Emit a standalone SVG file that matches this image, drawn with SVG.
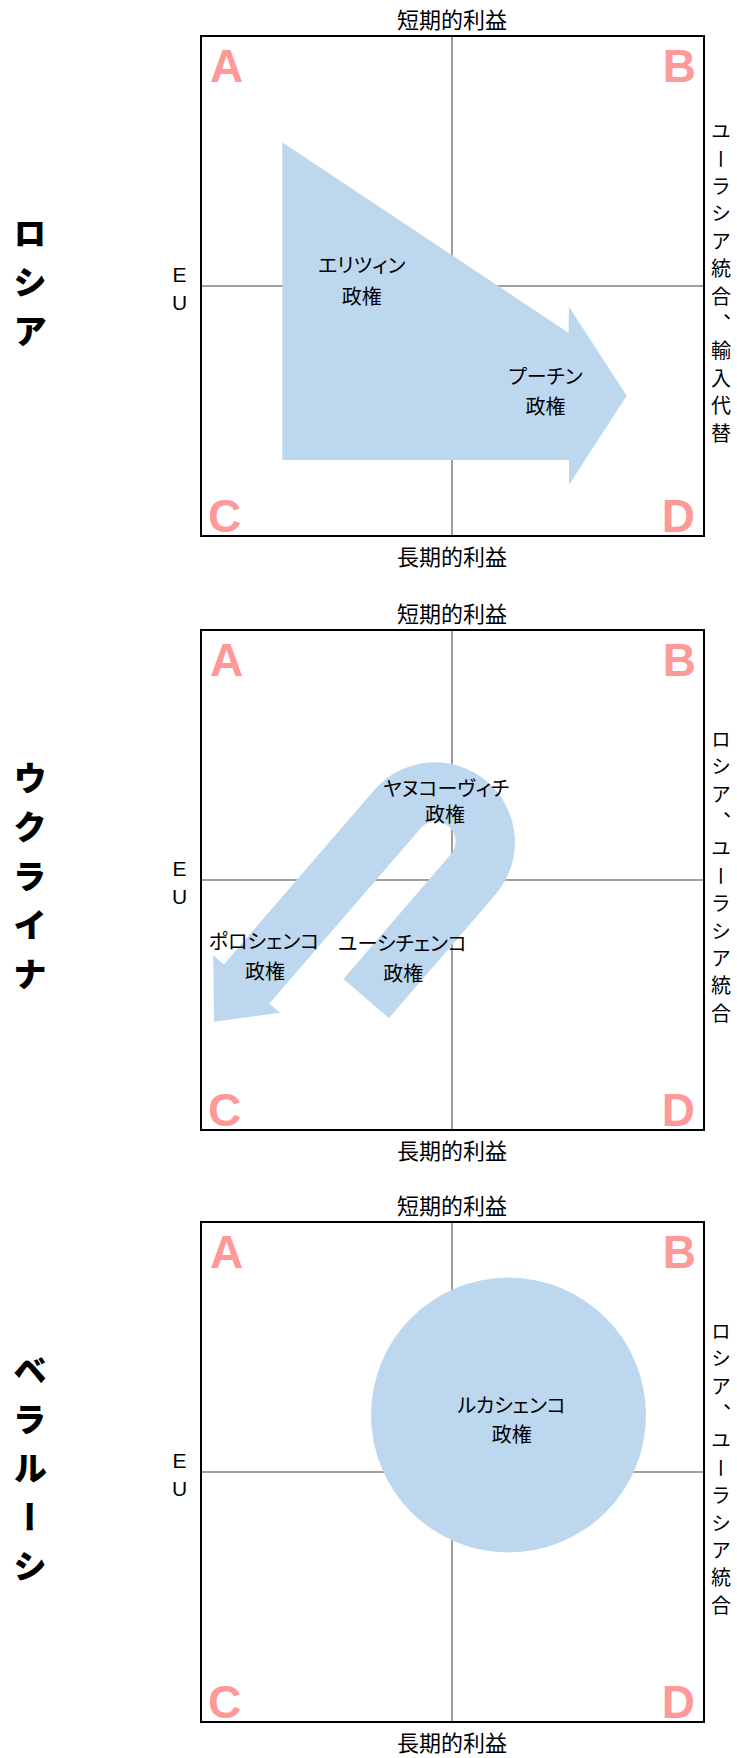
<svg xmlns="http://www.w3.org/2000/svg" width="737" height="1758" viewBox="0 0 737 1758">
<style>
.frame{fill:none;stroke:#000;stroke-width:2}
.grid{stroke:#7f7f7f;stroke-width:1.5}
.shape{fill:#BDD7EE}
.q{font-family:"Liberation Sans",Arial,sans-serif;font-weight:bold;font-size:46px;fill:#FF9999}
.qe{text-anchor:end}
.axis{font-family:"Noto Sans CJK JP",sans-serif;font-size:22px;fill:#000;text-anchor:middle}
.eu{font-family:"Liberation Sans",Arial,sans-serif;font-size:21px;fill:#000;text-anchor:middle}
.vr{font-family:"Noto Sans CJK JP",sans-serif;font-size:20px;fill:#000;writing-mode:vertical-rl;text-anchor:middle;letter-spacing:7.4px}
.big{font-family:"Noto Sans CJK JP",sans-serif;font-weight:900;font-size:34px;fill:#000;writing-mode:vertical-rl;text-anchor:middle;letter-spacing:15px}
.lbl{font-family:"Noto Sans CJK JP",sans-serif;font-size:20px;fill:#000;text-anchor:middle;font-feature-settings:"palt"}
</style>
<rect x="0" y="0" width="737" height="1758" fill="#fff"/>

<!-- Panel 1: Russia -->
<g id="panel-russia">
  <line class="grid" x1="452" y1="36" x2="452" y2="536"/>
  <line class="grid" x1="201" y1="286" x2="704" y2="286"/>
  <rect class="frame" x="201" y="36" width="503" height="500"/>
  <text class="q" x="210" y="81.5">A</text>
  <text class="q qe" x="696" y="81.5">B</text>
  <text class="q" x="208" y="531.5">C</text>
  <text class="q qe" x="695" y="531.5">D</text>
  <text class="axis" x="452" y="28">短期的利益</text>
  <text class="axis" x="452" y="565">長期的利益</text>
  <text class="eu" x="179.5" y="281.5">E</text>
  <text class="eu" x="179.5" y="309.5">U</text>
  <text class="vr" x="721" y="286">ユーラシア統合、輸入代替</text>
</g>
<g id="label-russia"><text class="big" x="30" y="290">ロシア</text></g>
<g id="arrow-russia">
  <polygon class="shape" points="282.3,142.3 568.5,332.7 569,306.7 626.7,395.7 569,484.7 569,460 282.3,460"/>
  <text class="lbl" x="361.7" y="273">エリツィン</text>
  <text class="lbl" x="361.7" y="303.5">政権</text>
  <text class="lbl" x="545.5" y="384">プーチン</text>
  <text class="lbl" x="545.5" y="414">政権</text>
</g>

<!-- Panel 2: Ukraine -->
<g id="panel-ukraine">
  <line class="grid" x1="452" y1="630" x2="452" y2="1130"/>
  <line class="grid" x1="201" y1="880" x2="704" y2="880"/>
  <rect class="frame" x="201" y="630" width="503" height="500"/>
  <text class="q" x="210" y="675.5">A</text>
  <text class="q qe" x="696" y="675.5">B</text>
  <text class="q" x="208" y="1125.5">C</text>
  <text class="q qe" x="695" y="1125.5">D</text>
  <text class="axis" x="452" y="622">短期的利益</text>
  <text class="axis" x="452" y="1159">長期的利益</text>
  <text class="eu" x="179.5" y="875.5">E</text>
  <text class="eu" x="179.5" y="903.5">U</text>
  <text class="vr" x="721" y="880">ロシア、ユーラシア統合</text>
</g>
<g id="label-ukraine"><text class="big" x="30" y="884">ウクライナ</text></g>
<g id="arrow-ukraine">
  <path class="shape" d="M343.4,979 L451.1,854.1 A20,20 0 0 0 420.9,827.9 L269.4,1003.5 L280,1012.7 L214,1021.8 L213.3,955.2 L223.9,964.4 L375.4,788.8 A80,80 0 0 1 496.6,893.2 L388.9,1018.1 Z"/>
  <text class="lbl" x="446" y="795.5">ヤヌコーヴィチ</text>
  <text class="lbl" x="445" y="822">政権</text>
  <text class="lbl" x="264" y="949">ポロシェンコ</text>
  <text class="lbl" x="265" y="979">政権</text>
  <text class="lbl" x="402.5" y="951">ユーシチェンコ</text>
  <text class="lbl" x="403.3" y="980.5">政権</text>
</g>

<!-- Panel 3: Belarus -->
<g id="panel-belarus">
  <line class="grid" x1="452" y1="1222" x2="452" y2="1722"/>
  <line class="grid" x1="201" y1="1472" x2="704" y2="1472"/>
  <rect class="frame" x="201" y="1222" width="503" height="500"/>
  <text class="q" x="210" y="1267.5">A</text>
  <text class="q qe" x="696" y="1267.5">B</text>
  <text class="q" x="208" y="1717.5">C</text>
  <text class="q qe" x="695" y="1717.5">D</text>
  <text class="axis" x="452" y="1214">短期的利益</text>
  <text class="axis" x="452" y="1751">長期的利益</text>
  <text class="eu" x="179.5" y="1467.5">E</text>
  <text class="eu" x="179.5" y="1495.5">U</text>
  <text class="vr" x="721" y="1472">ロシア、ユーラシア統合</text>
</g>
<g id="label-belarus"><text class="big" x="30" y="1476">ベラルーシ</text></g>
<g id="circle-belarus">
  <circle class="shape" cx="508.5" cy="1415" r="137.5"/>
  <text class="lbl" x="511.7" y="1413">ルカシェンコ</text>
  <text class="lbl" x="511.7" y="1442">政権</text>
</g>
</svg>
